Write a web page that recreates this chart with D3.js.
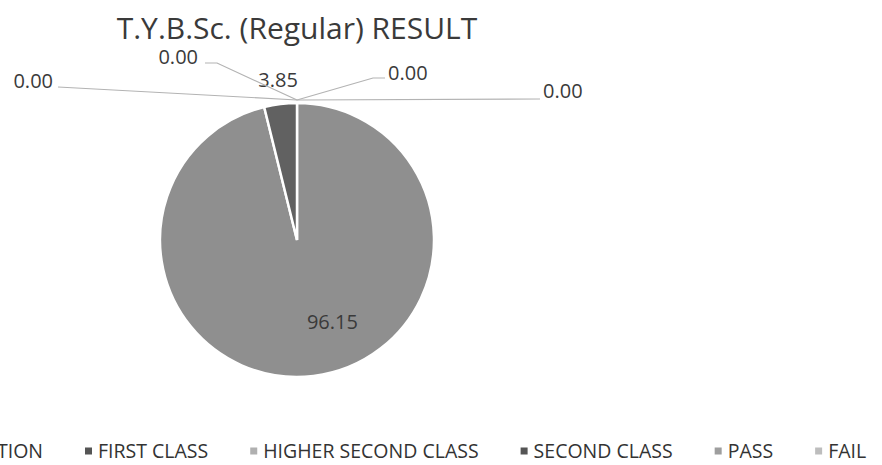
<!DOCTYPE html>
<html>
<head>
<meta charset="utf-8">
<script src="https://cdn.jsdelivr.net/npm/d3@7"></script>
<style>
  html, body { margin: 0; padding: 0; background: #fff; }
  svg { display: block; }
  text { font-family: "Open Sans", "Noto Sans", sans-serif; }
</style>
</head>
<body>
<svg id="chart" width="882" height="465"></svg>
<script>
// ---- data ----
const title = "T.Y.B.Sc. (Regular) RESULT";
const categories = ["DISTINCTION", "FIRST CLASS", "HIGHER SECOND CLASS", "SECOND CLASS", "PASS", "FAIL"];
const values = [0.00, 0.00, 96.15, 3.85, 0.00, 0.00];
const sliceColors = ["#4a4a4a", "#5a5a5a", "#8f8f8f", "#616161", "#9a9a9a", "#b4b4b4"];
const legendColors = ["#4a4a4a", "#555555", "#b0b0b0", "#555555", "#9e9e9e", "#bdbdbd"];

// ---- layout (not data) ----
const W = 882, H = 465;
const cx = 297, cy = 240, R = 137;
// label placement relative to each slice's outer anchor point
const labelLayout = [
  { mode: "leader", dx: 91, dy: -20, anchor: "start", path: [[76, -22], [88, -22]] },
  { mode: "leader", dx: 246, dy: -2, anchor: "start", path: [[243, -1]] },
  { mode: "inside", radius: 0.6, anchor: "start" },
  { mode: "outside", dx: -2, dy: -14, anchor: "middle", path: [] },
  { mode: "leader", dx: -99, dy: -36, anchor: "end", path: [[-80, -37], [-92, -37]] },
  { mode: "leader", dx: -244, dy: -12, anchor: "end", path: [[-239, -13]] }
];

const svg = d3.select("#chart");

svg.append("text")
  .attr("x", cx).attr("y", 39)
  .attr("text-anchor", "middle")
  .attr("fill", "#3a3a3a")
  .style("font-size", "30px")
  .text(title);

const data = categories.map((c, i) => ({ cat: c, value: values[i], i }));
const pie = d3.pie().value(d => d.value).sort(null);
const arcs = pie(data);
const arc = d3.arc().innerRadius(0).outerRadius(R);
const anchorArc = d3.arc().innerRadius(R + 3).outerRadius(R + 3);

const g = svg.append("g").attr("transform", `translate(${cx},${cy})`);

g.selectAll("path.slice")
  .data(arcs)
  .join("path")
  .attr("class", "slice")
  .attr("d", arc)
  .attr("fill", d => sliceColors[d.data.i])
  .attr("stroke", "#fff")
  .attr("stroke-width", d => d.value > 0 ? 2.5 : 0);

// labels
const fmt = d3.format(".2f");
arcs.forEach(d => {
  const L = labelLayout[d.data.i];
  const mid = (d.startAngle + d.endAngle) / 2;
  if (L.mode === "inside") {
    const rr = R * L.radius;
    const x = Math.sin(mid) * rr, y = -Math.cos(mid) * rr;
    g.append("text")
      .attr("x", x).attr("y", y)
      .attr("dy", "0.35em")
      .attr("text-anchor", L.anchor)
      .attr("fill", "#3a3a3a")
      .style("font-size", "20px")
      .text(fmt(d.data.value));
    return;
  }
  const a = anchorArc.centroid({ startAngle: mid, endAngle: mid });
  const ax = a[0], ay = a[1];
  if (L.path && L.path.length) {
    const pts = [[ax, ay]].concat(L.path.map(p => [ax + p[0], ay + p[1]]));
    g.append("path")
      .attr("d", d3.line()(pts))
      .attr("fill", "none")
      .attr("stroke", "#b3b3b3")
      .attr("stroke-width", 1.2);
  }
  g.append("text")
    .attr("x", ax + L.dx).attr("y", ay + L.dy)
    .attr("text-anchor", L.anchor)
    .attr("fill", "#3a3a3a")
    .style("font-size", "20px")
    .text(fmt(d.data.value));
});

// legend
const legY = 451, gap = 42, mk = 7, txtOff = 13;
const leg = svg.append("g");
const items = leg.selectAll("g.item")
  .data(categories)
  .join("g").attr("class", "item");
items.append("rect")
  .attr("width", mk).attr("height", mk)
  .attr("y", legY - mk / 2)
  .attr("fill", (d, i) => legendColors[i]);
items.append("text")
  .attr("x", txtOff).attr("y", legY)
  .attr("dy", "0.35em")
  .attr("fill", "#333")
  .style("font-size", "19.5px")
  .text(d => d);
const widths = [];
items.each(function () { widths.push(d3.select(this).select("text").node().getComputedTextLength()); });
// FIRST CLASS marker placed at x = 85, others flow around it
const xs = [];
xs[1] = 85;
xs[0] = xs[1] - gap - widths[0] - txtOff;
for (let i = 2; i < categories.length; i++) xs[i] = xs[i - 1] + txtOff + widths[i - 1] + gap;
items.attr("transform", (d, i) => `translate(${xs[i]},0)`);
</script>
</body>
</html>
